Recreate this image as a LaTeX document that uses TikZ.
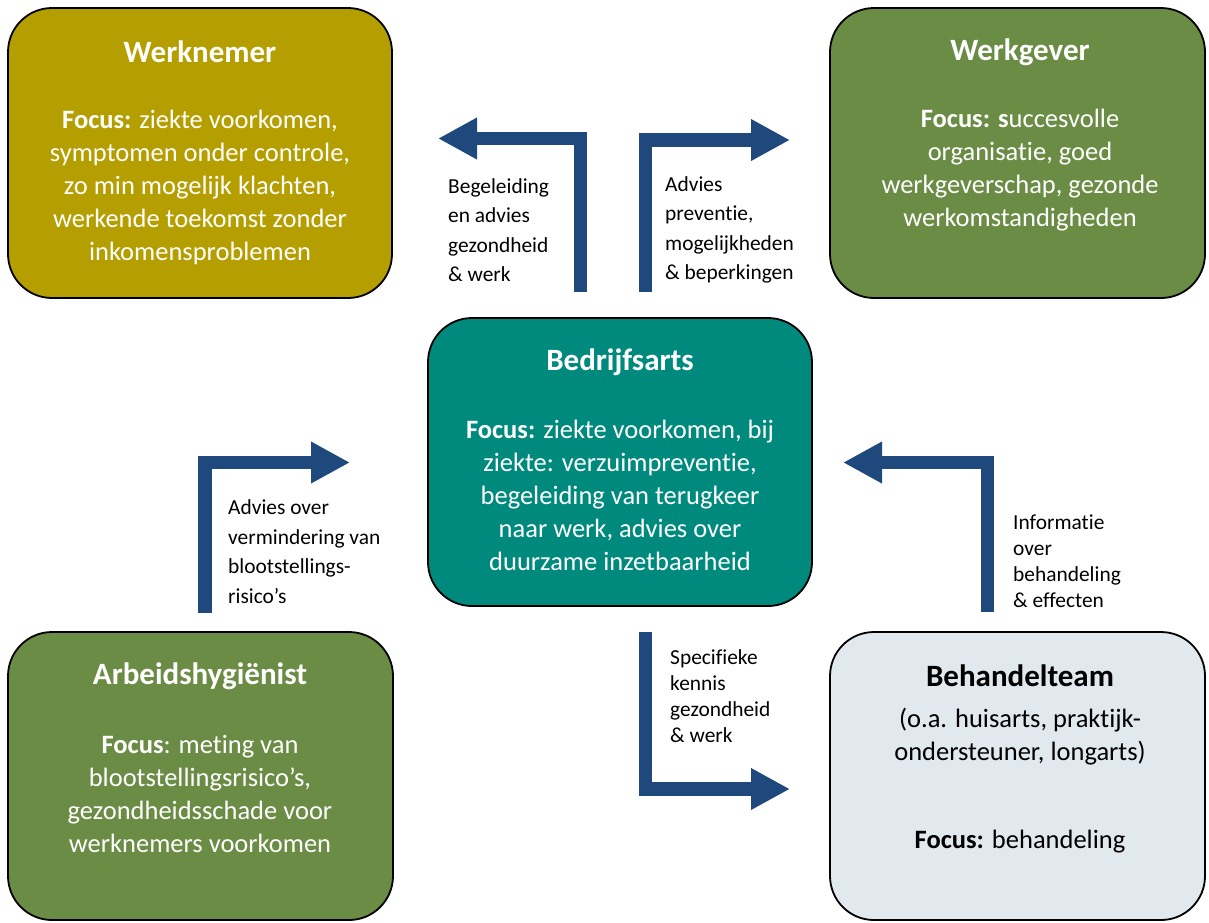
\documentclass[tikz,border=0pt]{standalone}
\usepackage{fontspec}
\setmainfont{Carlito}[Ligatures={NoCommon,NoContextual}]
\usetikzlibrary{arrows.meta}
\definecolor{olive}{HTML}{B59E00}
\definecolor{grn}{HTML}{6A8C45}
\definecolor{tealc}{HTML}{008A7E}
\definecolor{lightbox}{HTML}{E1E8EE}
\definecolor{arrowblue}{HTML}{1F497D}
\tikzset{
  box/.style={draw=black, line width=1.8pt, rounded corners=44pt, inner sep=0pt},
  title/.style={font=\fontsize{31}{36}\selectfont\bfseries, inner sep=0pt},
  body/.style={font=\fontsize{26.5}{33}\selectfont, align=center, inner sep=0pt},
  lbl/.style={font=\fontsize{21.4}{29.5}\selectfont, align=left, anchor=west, inner sep=0pt},
  lbltight/.style={font=\fontsize{21.4}{26}\selectfont, align=left, anchor=west, inner sep=0pt},
  flow/.style={draw=arrowblue, line width=13.5pt, line cap=butt, miter limit=10,
    -{Triangle[width=39pt,length=39pt]}},
}
\begin{document}
\begin{tikzpicture}[x=1pt,y=-1pt]
\useasboundingbox (0,0) rectangle (1209,922);
% boxes
\node[box, fill=olive, minimum width=384pt, minimum height=290pt] (werknemer) at (200,153) {};
\node[box, fill=grn, minimum width=375pt, minimum height=290pt] (werkgever) at (1017.5,153) {};
\node[box, fill=tealc, minimum width=384pt, minimum height=288pt] (bedrijfsarts) at (620,462) {};
\node[box, fill=grn, minimum width=385pt, minimum height=288pt] (arbeids) at (200.5,776) {};
\node[box, fill=lightbox, minimum width=375pt, minimum height=288pt] (behandel) at (1017.5,776) {};
% texts
\node[title, text=white] (t1) at (200,52) {Werknemer};
\node[body, text=white] (b1) at (200,187.5) {\textbf{Focus:} ziekte voorkomen,\\symptomen onder controle,\\zo min mogelijk klachten,\\werkende toekomst zonder\\inkomensproblemen};
\node[title, text=white] (t2) at (1020,52) {Werkgever};
\node[body, text=white] (b2) at (1020,170) {\textbf{Focus: s}uccesvolle\\organisatie, goed\\werkgeverschap, gezonde\\werkomstandigheden};
\node[title, text=white] (t3) at (620,362) {Bedrijfsarts};
\node[body, text=white] (b3) at (620,495.5) {\textbf{Focus:} ziekte voorkomen, bij\\ziekte: verzuimpreventie,\\begeleiding van terugkeer\\naar werk, advies over\\duurzame inzetbaarheid};
\node[title, text=white] (t4) at (200,676) {Arbeidshygiënist};
\node[body, text=white] (b4) at (200,794) {\textbf{Focus}: meting van\\blootstellingsrisico’s,\\gezondheidsschade voor\\werknemers voorkomen};
\node[title, text=black] (t5) at (1020,676) {Behandelteam};
\node[body, text=black] (b5) at (1020,737) {(o.a. huisarts, praktijk-\\ondersteuner, longarts)};
\node[body, text=black] (b6) at (1020,842) {\textbf{Focus:} behandeling};
% arrows
\coordinate (a1s) at (580.5,292);
\coordinate (a1t) at (438,138.5);
\coordinate (a2s) at (645.5,292);
\coordinate (a2t) at (790,140);
\coordinate (a3s) at (205,613);
\coordinate (a3t) at (350,462.5);
\coordinate (a4s) at (987.5,612);
\coordinate (a4t) at (843,462.5);
\coordinate (a5s) at (645.5,632);
\coordinate (a5t) at (790,789);
\draw[flow] (a1s) |- (a1t);
\draw[flow] (a2s) |- (a2t);
\draw[flow] (a3s) |- (a3t);
\draw[flow] (a4s) |- (a4t);
\draw[flow] (a5s) |- (a5t);
% labels
\node[lbl] (l1) at (448,230) {Begeleiding\\en advies\\gezondheid\\\& werk};
\node[lbl] (l2) at (665,230) {Advies\\preventie,\\mogelijkheden\\\& beperkingen};
\node[lbl] (l3) at (228,551.5) {Advies over\\vermindering van\\blootstellings-\\risico’s};
\node[lbltight] (l4) at (1013,561) {Informatie\\over\\behandeling\\\& effecten};
\node[lbltight] (l5) at (670,696) {Specifieke\\kennis\\gezondheid\\\& werk};
\end{tikzpicture}
\end{document}
